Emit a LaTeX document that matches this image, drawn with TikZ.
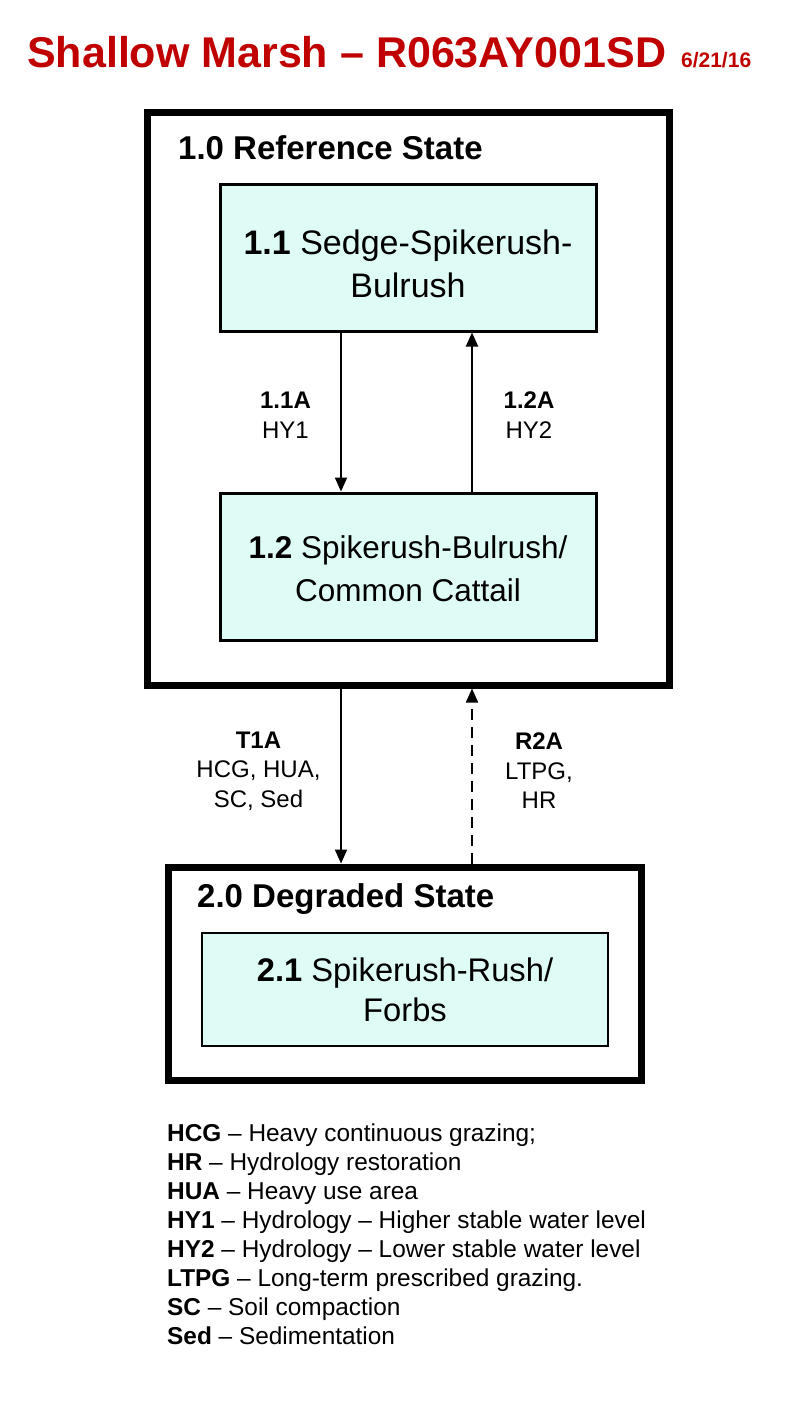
\documentclass[tikz,border=0pt]{standalone}
\usepackage{fontspec}
\setmainfont{Liberation Sans}
\usetikzlibrary{arrows.meta}
\definecolor{titlered}{RGB}{192,0,0}
\definecolor{boxfill}{RGB}{222,252,245}
\tikzset{
  statebox/.style={draw=black,line width=7pt,inner sep=0pt,fill=none},
  phasebox/.style={draw=black,line width=3pt,fill=boxfill,inner sep=0pt},
  phasetext/.style={align=center,inner sep=0pt},
  statetitle/.style={anchor=base west,inner sep=0pt,font=\bfseries\fontsize{33}{38}\selectfont},
  arr/.style={line width=2pt,-{Triangle[length=14pt,width=12pt]}},
  lbl/.style={align=center,font=\fontsize{24}{29.5}\selectfont,inner sep=0pt},
}
\begin{document}
\begin{tikzpicture}[x=1pt,y=-1pt]
\useasboundingbox[fill=white] (0,0) rectangle (800,1408);
% title
\node[anchor=base west,inner sep=0pt,text=titlered,font=\bfseries\fontsize{43}{48}\selectfont] (title) at (27,67)
  {Shallow Marsh -- R063AY001SD\hspace{15pt}{\fontsize{21}{22}\selectfont 6/21/16}};
% state 1
\node[statebox,minimum width=522pt,minimum height=573pt] (s1) at (408,398.5) {};
\node[statetitle] (s1t) at (178,159) {1.0 Reference State};
\node[phasebox,minimum width=376pt,minimum height=147pt] (p11) at (408,257.5) {};
\node[phasetext,font=\fontsize{34}{43}\selectfont] (p11t) at ([yshift=-6pt]p11.center)
  {\textbf{1.1} Sedge-Spikerush-\\Bulrush};
\node[phasebox,minimum width=376pt,minimum height=147pt] (p12) at (408,566.5) {};
\node[phasetext,font=\fontsize{31.5}{43}\selectfont] (p12t) at ([yshift=-2.5pt]p12.center)
  {\textbf{1.2} Spikerush-Bulrush/\\Common Cattail};
\draw[arr] ([xshift=-67pt]p11.south) -- ([xshift=-67pt]p12.north);
\draw[arr] ([xshift=64pt]p12.north) -- ([xshift=64pt]p11.south);
\node[lbl] (l11) at (285.5,415) {\textbf{1.1A}\\HY1};
\node[lbl] (l12) at (529,415) {\textbf{1.2A}\\HY2};
% state 2
\node[statebox,minimum width=473pt,minimum height=213pt] (s2) at (404.5,973.5) {};
\node[statetitle] (s2t) at (197,907) {2.0 Degraded State};
\node[phasebox,line width=2pt,minimum width=406pt,minimum height=113pt] (p21) at (405,989.5) {};
\node[phasetext,font=\fontsize{32.7}{40}\selectfont] (p21t) at (p21.center)
  {\textbf{2.1} Spikerush-Rush/\\Forbs};
% transitions
\draw[arr] ([xshift=-67pt]s1.south) -- ([xshift=-63.5pt]s2.north);
\draw[arr,dash pattern=on 11pt off 7pt] ([xshift=67.5pt]s2.north) -- ([xshift=64pt]s1.south);
\node[lbl] (lt1) at (258.5,771) {\textbf{T1A}\\HCG, HUA,\\SC, Sed};
\node[lbl] (lr2) at (539,771) {\textbf{R2A}\\LTPG,\\HR};
% legend
\node[anchor=north west,align=left,inner sep=0pt,font=\fontsize{24.4}{28.9}\selectfont] (legend) at (167,1124)
  {\textbf{HCG} -- Heavy continuous grazing;\\
   \textbf{HR} -- Hydrology restoration\\
   \textbf{HUA} -- Heavy use area\\
   \textbf{HY1} -- Hydrology -- Higher stable water level\\
   \textbf{HY2} -- Hydrology -- Lower stable water level\\
   \textbf{LTPG} -- Long-term prescribed grazing.\\
   \textbf{SC} -- Soil compaction\\
   \textbf{Sed} -- Sedimentation};
\end{tikzpicture}
\end{document}
